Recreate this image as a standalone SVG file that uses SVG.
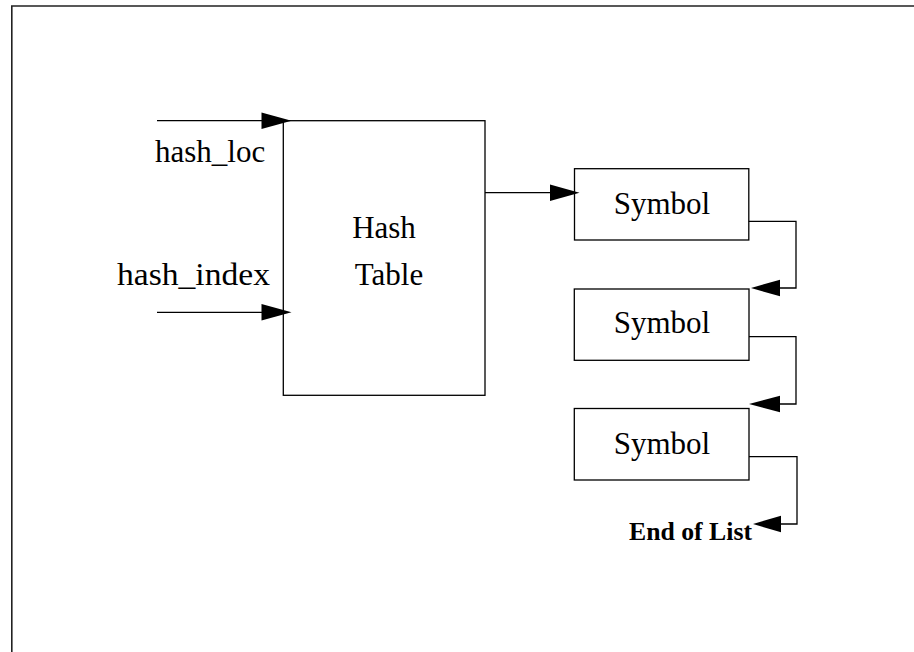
<svg xmlns="http://www.w3.org/2000/svg" width="914" height="652" viewBox="0 0 914 652">
<style>
.box{fill:none;stroke:#000;stroke-width:1.3}
.ln{fill:none;stroke:#000;stroke-width:1.3}
.ah{fill:#000;stroke:none}
.t{font-family:"Liberation Serif","Times New Roman",serif;font-size:31px;fill:#000}
.tb{font-family:"Liberation Serif","Times New Roman",serif;font-size:25px;font-weight:bold;fill:#000}
</style>
<rect width="914" height="652" fill="#fff"/>
<path d="M11.8 652 V6 H914" fill="none" stroke="#222" stroke-width="1.6"/>
<g id="connectors">
  <path class="ln" d="M157 120.7 H270"/>
  <path class="ah" d="M261.5 112.5 L291.5 120.7 L261.5 129 Z"/>
  <path class="ln" d="M157 312.3 H270"/>
  <path class="ah" d="M261.5 304 L291.5 312.3 L261.5 320.6 Z"/>
  <path class="ln" d="M485 192.7 H560"/>
  <path class="ah" d="M550 184.4 L579.5 192.7 L550 201 Z"/>
  <path class="ln" d="M748.7 221.3 H796 V288 H775"/>
  <path class="ah" d="M780 279.7 L751 288 L780 296.3 Z"/>
  <path class="ln" d="M749 336.7 H796 V404 H775"/>
  <path class="ah" d="M780 395.7 L749 404 L780 412.3 Z"/>
  <path class="ln" d="M749 456.7 H797 V524 H775"/>
  <path class="ah" d="M781 515.7 L753 524 L781 532.3 Z"/>
</g>
<g id="hash_table">
  <rect class="box" x="283.3" y="120.7" width="201.7" height="274.6"/>
  <text class="t" x="384" y="238.3" text-anchor="middle">Hash</text>
  <text class="t" x="389" y="285" text-anchor="middle">Table</text>
</g>
<g id="hash_loc_label">
  <text class="t" x="155" y="161.7">hash_loc</text>
</g>
<g id="hash_index_label">
  <text class="t" x="117" y="285" textLength="153" lengthAdjust="spacingAndGlyphs">hash_index</text>
</g>
<g id="symbol1">
  <rect class="box" x="574.5" y="168.7" width="174.3" height="71.3"/>
  <text class="t" x="662" y="213.5" text-anchor="middle">Symbol</text>
</g>
<g id="symbol2">
  <rect class="box" x="574.3" y="289" width="174.7" height="71.3"/>
  <text class="t" x="662" y="333.3" text-anchor="middle">Symbol</text>
</g>
<g id="symbol3">
  <rect class="box" x="574.3" y="408.5" width="174.7" height="71.5"/>
  <text class="t" x="662" y="454" text-anchor="middle">Symbol</text>
</g>
<g id="end_of_list">
  <text class="tb" x="629" y="540" textLength="123" lengthAdjust="spacingAndGlyphs">End of List</text>
</g>
</svg>
